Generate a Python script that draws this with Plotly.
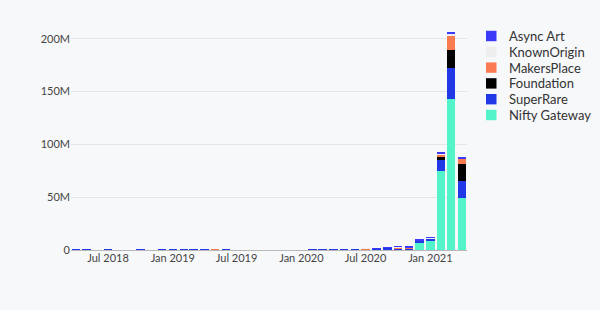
import plotly.graph_objects as go

months = [
    "2018-04-01", "2018-05-01", "2018-06-01", "2018-07-01", "2018-08-01", "2018-09-01",
    "2018-10-01", "2018-11-01", "2018-12-01", "2019-01-01", "2019-02-01", "2019-03-01",
    "2019-04-01", "2019-05-01", "2019-06-01", "2019-07-01", "2019-08-01", "2019-09-01",
    "2019-10-01", "2019-11-01", "2019-12-01", "2020-01-01", "2020-02-01", "2020-03-01",
    "2020-04-01", "2020-05-01", "2020-06-01", "2020-07-01", "2020-08-01", "2020-09-01",
    "2020-10-01", "2020-11-01", "2020-12-01", "2021-01-01", "2021-02-01", "2021-03-01",
    "2021-04-01",
]

# values in millions USD
nifty_gateway = [0] * 29 + [0.4, 0.5, 0.6, 7.1, 8.7, 75.3, 143.2, 49.4]
super_rare = [0.7, 0.7, 0, 0.7, 0, 0, 0.7, 0, 0.7, 0.7, 0.7, 0.7, 0.7, 0, 0.7,
              0, 0, 0, 0, 0, 0, 0, 0.7, 0.7, 0.7, 0.7, 0.7, 0.5, 1.0, 1.5, 1.2,
              1.0, 1.8, 2.2, 9.5, 29.4, 15.7]
foundation = [0] * 34 + [3.5, 16.7, 16.8]
makers_place = [0] * 13 + [0.7] + [0] * 13 + [0.7, 0, 0, 0.8, 0.7, 0.3, 0.4, 2.2, 13.3, 4.4]
known_origin = [0] * 27 + [0.5, 0, 0, 0.5, 0.4, 0.2, 0.4, 1.0, 2.2, 0.5]
async_art = [0] * 28 + [0.4, 0.8, 0.3, 0.3, 0.3, 0.3, 0.6, 1.0, 0.5]

series = [
    ("Nifty Gateway", nifty_gateway, "#54f4cb"),
    ("SuperRare", super_rare, "#2038e6"),
    ("Foundation", foundation, "#000000"),
    ("MakersPlace", makers_place, "#fa7b50"),
    ("KnownOrigin", known_origin, "#eeeeee"),
    ("Async Art", async_art, "#3a3af8"),
]

W, H = 600, 310
ML, MR, MT, MB = 71, 133, 23, 60
PW, PH = W - ML - MR, H - MT - MB


def px_x(p):
    return (p - ML) / PW


def px_y(p):
    return (H - MB - p) / PH


fig = go.Figure()
for name, vals, color in series:
    fig.add_trace(go.Bar(
        x=months, y=[v * 1e6 for v in vals], name=name,
        marker=dict(color=color, line=dict(width=0)),
        showlegend=False,
    ))

# custom legend (top entry = last stacked series)
shapes, annotations = [], []
for i, (name, _, color) in enumerate(reversed(series)):
    cy = 36 + i * 15.8
    shapes.append(dict(
        type="rect", xref="paper", yref="paper",
        x0=px_x(486), x1=px_x(496.5), y0=px_y(cy + 5.2), y1=px_y(cy - 5.2),
        fillcolor=color, line=dict(width=0), layer="above",
    ))
    annotations.append(dict(
        xref="paper", yref="paper", x=px_x(507), y=px_y(cy),
        xanchor="left", yanchor="middle", showarrow=False, text=name,
        font=dict(size=13, color="#333"),
    ))

bg = "#f7f8fa"
fig.update_layout(
    barmode="stack",
    bargap=0.15,
    width=W, height=H,
    margin=dict(l=ML, r=MR, t=MT, b=MB),
    paper_bgcolor=bg, plot_bgcolor=bg,
    font=dict(family="Lato, sans-serif", size=11, color="#444"),
    showlegend=False,
    shapes=shapes,
    annotations=annotations,
    xaxis=dict(
        type="date", dtick="M6", tick0="2018-07-01", tickformat="%b %Y",
        showgrid=False, zeroline=False, showline=False, ticks="",
    ),
    yaxis=dict(
        range=[0, 215e6], tickformat="~s", dtick=50e6,
        showgrid=True, gridcolor="#e4e6ea", gridwidth=1,
        zeroline=True, zerolinecolor="#b8b8b8", zerolinewidth=1,
        ticks="", showline=False,
    ),
)

fig.write_html("out.html")
